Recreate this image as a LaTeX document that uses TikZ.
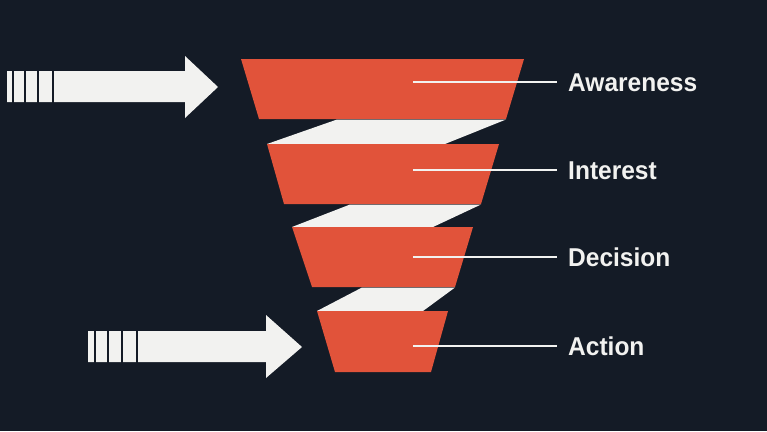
\documentclass[tikz,border=0pt]{standalone}
\usepackage{fontspec}
\newfontfamily\labfont{Liberation Sans}[FakeStretch=0.95]
\definecolor{bg}{HTML}{141B26}
\definecolor{fun}{HTML}{E1533A}
\definecolor{wband}{HTML}{F2F2F0}
\begin{document}
\begin{tikzpicture}[x=1pt,y=-1pt,
  stage/.style={fill=fun},
  band/.style={fill=wband},
  arrowbody/.style={fill=wband},
  stripe/.style={draw=bg,line width=2pt},
  leader/.style={draw=wband,line width=1.8pt},
  lab/.style={anchor=base west,inner sep=0pt,text=wband,font=\labfont\bfseries\fontsize{25.8}{30}\selectfont}]
\fill[bg] (0,0) rectangle (767,431);
\useasboundingbox (0,0) rectangle (767,431);
% funnel stages
\fill[stage] (241,59) -- (524,59) -- (506,119) -- (259,119) -- cycle;
\fill[band] (337,119.5) -- (506,119.5) -- (445,144) -- (267,144) -- cycle;
\fill[stage] (267,144) -- (499,144) -- (481,204) -- (284,204) -- cycle;
\fill[band] (350,204.5) -- (481,204.5) -- (433,227) -- (292,227) -- cycle;
\fill[stage] (292,227) -- (473,227) -- (455,287) -- (312,287) -- cycle;
\fill[band] (362,287.5) -- (455,287.5) -- (423,311) -- (317,311) -- cycle;
\fill[stage] (317,311) -- (448,311) -- (431,372) -- (335,372) -- cycle;
% arrows
\fill[arrowbody] (7,71) -- (185,71) -- (185,56) -- (218,87) -- (185,118) -- (185,102) -- (7,102) -- cycle;
\foreach \sx in {13.3,25,37.8,53} \draw[stripe] (\sx,70) -- (\sx,103);
\fill[arrowbody] (88,331) -- (266,331) -- (266,315) -- (302,347) -- (266,378) -- (266,362) -- (88,362) -- cycle;
\foreach \sx in {94.5,108.3,121.7,137.2} \draw[stripe] (\sx,330) -- (\sx,363);
% labels
\node[lab] (l1) at (568,91.3) {Awareness};
\node[lab] (l2) at (568,179.3) {Interest};
\node[lab] (l3) at (568,266.3) {Decision};
\node[lab] (l4) at (568,355.3) {Action};
\coordinate (c1) at (413,82);
\coordinate (c2) at (413,170);
\coordinate (c3) at (413,257);
\coordinate (c4) at (413,346);
\coordinate (e1) at (557,82);
\coordinate (e2) at (557,170);
\coordinate (e3) at (557,257);
\coordinate (e4) at (557,346);
\foreach \i in {1,2,3,4} \draw[leader] (c\i) -- (e\i);
\end{tikzpicture}
\end{document}
